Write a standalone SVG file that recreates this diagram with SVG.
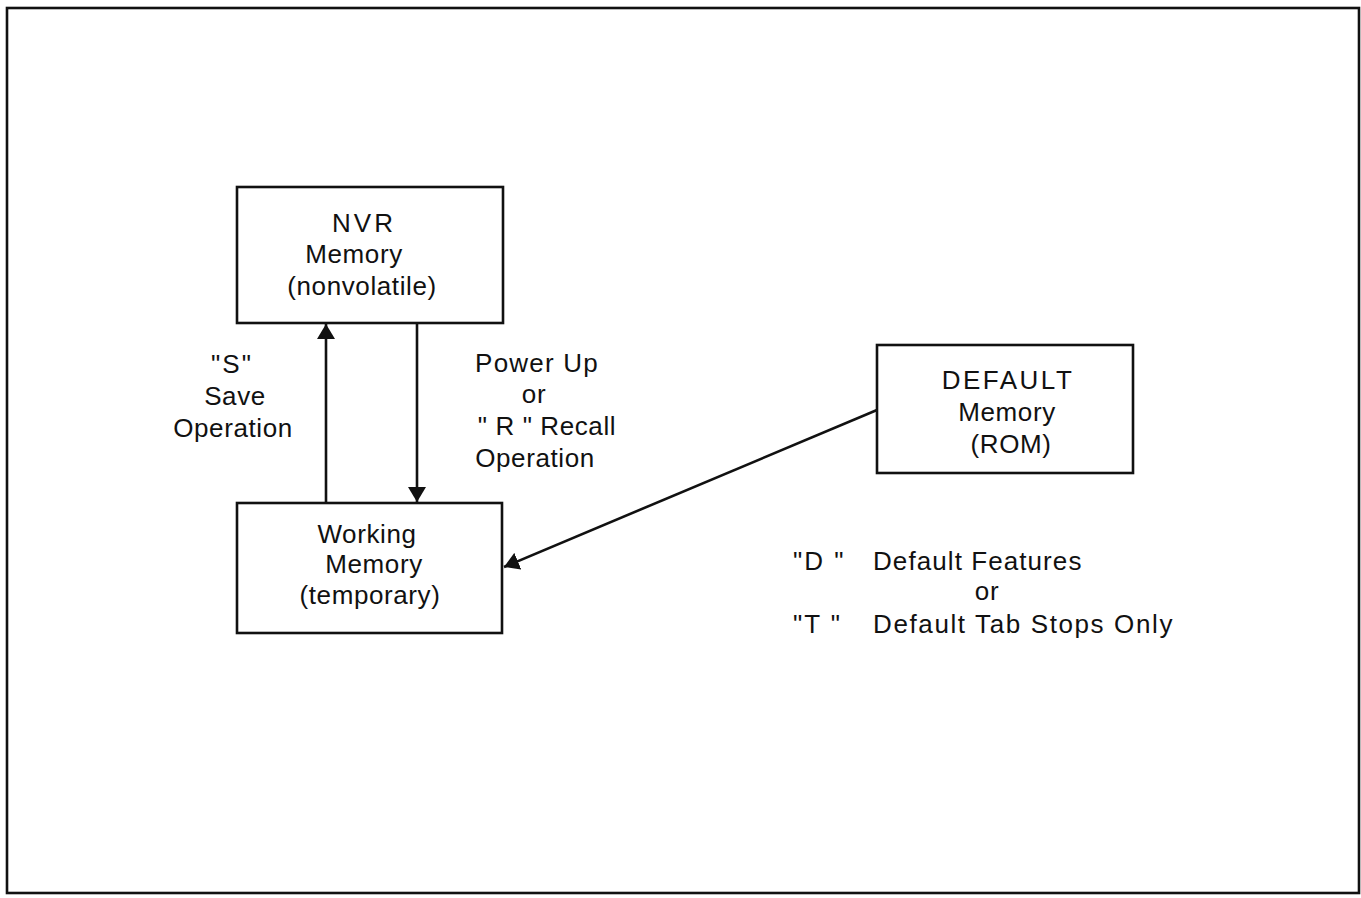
<svg xmlns="http://www.w3.org/2000/svg" width="1361" height="898" viewBox="0 0 1361 898">
<style>
.box{fill:#fff;stroke:#111;stroke-width:2.6}
.ln{stroke:#111;stroke-width:2.6;fill:none}
text{font-family:"Liberation Sans",Arial,sans-serif;font-size:26px;fill:#111;text-anchor:middle;letter-spacing:0.6px}
.l{text-anchor:start}
</style>
<defs>
<marker id="ah" viewBox="0 0 15 18" refX="15" refY="9" markerWidth="15" markerHeight="18" markerUnits="userSpaceOnUse" orient="auto">
<path d="M0,0 L15,9 L0,18 Z" fill="#111"/>
</marker>
</defs>
<rect x="0" y="0" width="1361" height="898" fill="#fff"/>
<rect x="7" y="8" width="1352" height="885" fill="none" stroke="#111" stroke-width="2.6"/>
<g id="connectors">
<line class="ln" x1="326" y1="503" x2="326" y2="324" marker-end="url(#ah)"/>
<line class="ln" x1="417" y1="323" x2="417" y2="502" marker-end="url(#ah)"/>
<line class="ln" x1="877" y1="410" x2="504" y2="567" marker-end="url(#ah)"/>
</g>
<g id="nvr">
<rect class="box" x="237" y="187" width="266" height="136"/>
<text x="364" y="232" style="letter-spacing:3px">NVR</text>
<text x="354" y="263">Memory</text>
<text x="362" y="295">(nonvolatile)</text>
</g>
<g id="working">
<rect class="box" x="237" y="503" width="265" height="130"/>
<text x="367" y="543">Working</text>
<text x="374" y="573">Memory</text>
<text x="370" y="604">(temporary)</text>
</g>
<g id="default">
<rect class="box" x="877" y="345" width="256" height="128"/>
<text x="1008" y="389" style="letter-spacing:2.5px">DEFAULT</text>
<text x="1007" y="421">Memory</text>
<text x="1011" y="453">(ROM)</text>
</g>
<g id="save-label">
<text x="232" y="373" style="letter-spacing:2px">"S"</text>
<text x="235" y="405">Save</text>
<text x="233" y="437">Operation</text>
</g>
<g id="recall-label">
<text x="537" y="372" style="letter-spacing:1.2px">Power Up</text>
<text x="534" y="403">or</text>
<text x="547" y="435">" R " Recall</text>
<text x="535" y="467">Operation</text>
</g>
<g id="legend">
<text class="l" x="793" y="570" style="letter-spacing:2px">"D "</text>
<text class="l" x="873" y="570" textLength="209" lengthAdjust="spacing">Default Features</text>
<text x="987" y="600">or</text>
<text class="l" x="793" y="633" style="letter-spacing:2px">"T "</text>
<text class="l" x="873" y="633" textLength="300" lengthAdjust="spacing">Default Tab Stops Only</text>
</g>
</svg>
